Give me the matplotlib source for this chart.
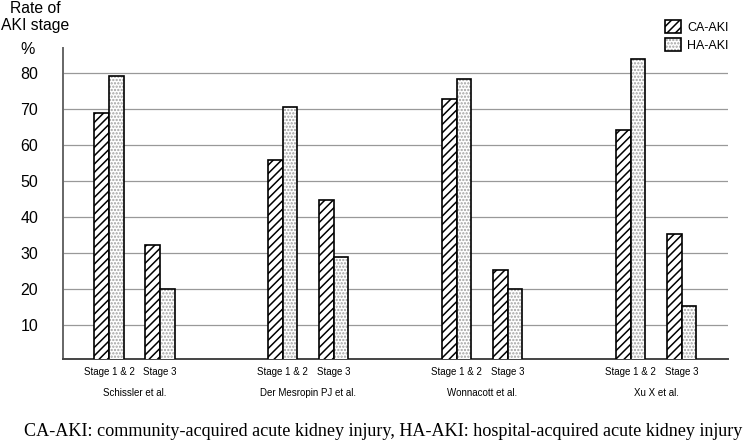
import numpy as np
import matplotlib.pyplot as plt
from matplotlib.patches import Patch
from matplotlib.legend_handler import HandlerTuple
from matplotlib.transforms import blended_transform_factory

plt.rcParams['font.family'] = ['Liberation Sans', 'DejaVu Sans']
plt.rcParams['hatch.linewidth'] = 1.1

studies = ["Schissler et al.", "Der Mesropin PJ et al.", "Wonnacott et al.", "Xu X et al."]
stages = ["Stage 1 & 2", "Stage 3"]
series = ["CA-AKI", "HA-AKI"]
ca_stage12 = [69.1, 56.0, 72.8, 64.3]
ha_stage12 = [79.1, 70.6, 78.3, 84.0]
ca_stage3 = [32.4, 44.7, 25.3, 35.4]
ha_stage3 = [20.1, 29.0, 20.1, 15.5]
y_ticks = [10, 20, 30, 40, 50, 60, 70, 80]

caption = ("CA-AKI: community-acquired acute kidney injury, "
           "HA-AKI: hospital-acquired acute kidney injury")

study_gap = 3.41
bar_w = 0.285
dot_grey = '#a0a0a0'

fig = plt.figure(figsize=(7.5, 4.42), dpi=100)
ax = fig.add_axes([63 / 750, 1 - 359 / 442, 665 / 750, 311 / 442])

study_x = np.arange(len(studies)) * study_gap
pair_x = np.concatenate([[s, s + 1.0] for s in study_x])
ca_vals = np.ravel(np.column_stack([ca_stage12, ca_stage3]))
ha_vals = np.ravel(np.column_stack([ha_stage12, ha_stage3]))

# CA bars: diagonal hatch, black edge
ax.bar(pair_x - bar_w, ca_vals, bar_w, align='edge', facecolor='white',
       edgecolor='black', hatch='////', linewidth=1.2, zorder=3)
# HA bars: grey dots, drawn then outlined in black
ax.bar(pair_x, ha_vals, bar_w, align='edge', facecolor='white',
       edgecolor=dot_grey, hatch='.....', linewidth=0, zorder=3)
ax.bar(pair_x, ha_vals, bar_w, align='edge', fill=False,
       edgecolor='black', linewidth=1.2, zorder=4)

ax.set_xlim(-0.902, 12.137)
ax.set_ylim(0.7, 87.0)

ax.set_yticks(y_ticks)
ax.set_yticklabels([str(v) for v in y_ticks], fontsize=11.5)
ax.tick_params(axis='y', length=0, pad=18)
ax.set_xticks(pair_x)
ax.set_xticklabels(stages * len(studies), fontsize=7)
ax.tick_params(axis='x', length=0, pad=6)

ax.yaxis.grid(True, color='#999999', linewidth=0.9, zorder=0)
ax.set_axisbelow(True)

for side in ['top', 'right']:
    ax.spines[side].set_visible(False)
ax.spines['left'].set_color('#666666')
ax.spines['left'].set_linewidth(1.4)
ax.spines['bottom'].set_color('#444444')
ax.spines['bottom'].set_linewidth(1.4)

trans = blended_transform_factory(ax.transData, ax.transAxes)
for sx, name in zip(study_x, studies):
    ax.text(sx + 0.5, -0.109, name, transform=trans, ha='center',
            va='center', fontsize=7)

ca_handle = Patch(facecolor='white', edgecolor='black', hatch='////', linewidth=1.2)
ha_handle = (Patch(facecolor='white', edgecolor=dot_grey, hatch='.....', linewidth=0),
             Patch(fill=False, edgecolor='black', linewidth=1.2))
fig.legend([ca_handle, ha_handle], series, handler_map={tuple: HandlerTuple(ndivide=1)},
           loc='upper left', bbox_to_anchor=(655 / 750, 1 - 10 / 442),
           frameon=False, fontsize=9, handlelength=1.3, handleheight=1.25,
           handletextpad=0.5, labelspacing=0.35, borderpad=0.3)

fig.text(35.5 / 750, 1 - 1 / 442, "Rate of\nAKI stage", ha='center', va='top',
         fontsize=11.3, linespacing=1.15)
fig.text(28 / 750, 1 - 50 / 442, "%", ha='center', va='center', fontsize=11.5)

fig.text(383.5 / 750, 1 - 431 / 442, caption, ha='center', va='center',
         fontsize=13.1, family=['Liberation Serif', 'DejaVu Serif'])

fig.savefig('out.png', dpi=100)
